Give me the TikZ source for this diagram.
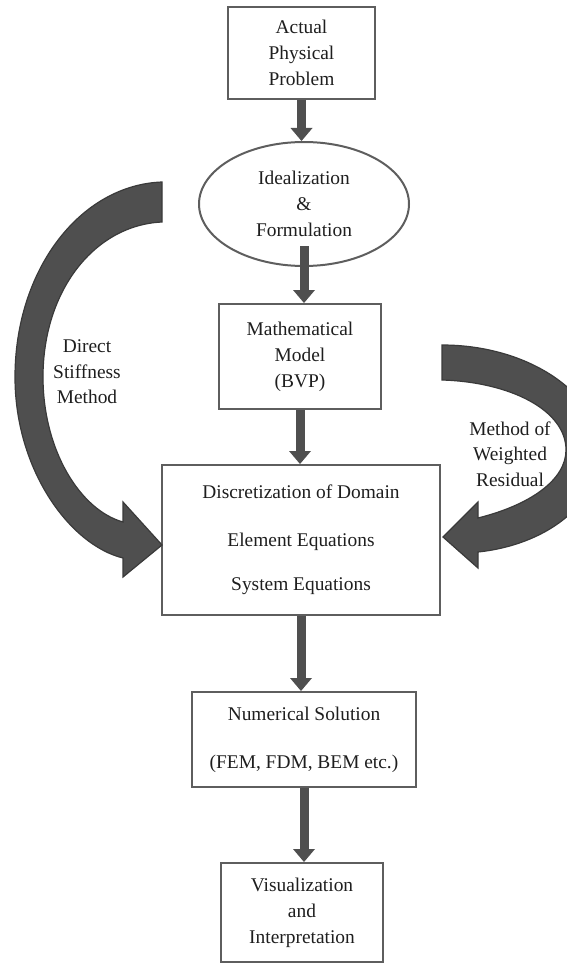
\documentclass[tikz,border=0pt]{standalone}
\usepackage{fontspec}
\setmainfont{Liberation Serif}
\usetikzlibrary{arrows.meta,positioning,shapes.geometric}
\definecolor{boxgray}{HTML}{5E5E5E}
\definecolor{fillgray}{HTML}{4F4F4F}
\definecolor{edgegray}{HTML}{3A3A3A}
\definecolor{inkgray}{HTML}{1E1E1E}
\tikzset{
  stage/.style={draw=boxgray, line width=1pt, align=center, inner sep=0pt, text=inkgray,
    font=\fontsize{9.7}{13}\selectfont},
  flow/.style={draw=fillgray, line width=4.5pt, -{Triangle[length=6.5pt,width=11pt,line width=0pt]}},
  swoop/.style={fill=fillgray, draw=edgegray, line width=0.6pt, line join=miter},
  side/.style={text=inkgray, align=center, font=\fontsize{9.7}{12.7}\selectfont}
}
\begin{document}
\begin{tikzpicture}[x=0.5pt,y=-0.5pt]
	\useasboundingbox (0,0) rectangle (567,963);
	% blocks of the chain
	\node[stage, minimum width=73.5pt, minimum height=46pt] (prob) at (301.5,53) {Actual\\Physical\\Problem};
	\node[stage, ellipse, minimum width=105pt, minimum height=62pt] (ideal) at (304,204) {Idealization\\\&\\Formulation};
	\node[stage, minimum width=81pt, minimum height=52.5pt] (model) at (300,356.5) {Mathematical\\Model\\(BVP)};
	\node[stage, minimum width=139pt, minimum height=75pt] (disc) at (301,540) {Discretization of Domain\\[11pt]Element Equations\\[9pt]System Equations};
	\node[stage, minimum width=112pt, minimum height=47.5pt] (numer) at (304,739.5) {Numerical Solution\\[11pt](FEM, FDM, BEM etc.)};
	\node[stage, minimum width=81pt, minimum height=49.5pt] (visual) at (302,912.5) {Visualization\\and\\Interpretation};
	% straight arrows
	\draw[flow] (prob.south) -- (prob.south |- ideal.north);
	\draw[flow] ([yshift=10.5pt]ideal.south) -- (ideal.south |- model.north);
	\foreach \a/\b in {model/disc, disc/numer, numer/visual}
		\draw[flow] (\a.south) -- (\a.south |- \b.north);
	% curved arrows
	\filldraw[swoop] (162,182) .. controls (80,185) and (15,270) .. (15,377)
		.. controls (15,470) and (70,545) .. (123,558) -- (123,577) -- (162,545) -- (123,502) -- (123,522)
		.. controls (80,510) and (43,450) .. (43,377) .. controls (43,290) and (95,225) .. (162,222) -- cycle;
	\begin{scope}
		\clip (0,0) rectangle (567,963);
		\filldraw[swoop] (442,345) .. controls (530,345) and (600,395) .. (600,450)
			.. controls (600,505) and (545,545) .. (478,552) -- (478,568) -- (443,537) -- (478,502) -- (478,518)
			.. controls (530,505) and (566,480) .. (566,450) .. controls (566,410) and (510,382) .. (442,380) -- cycle;
	\end{scope}
	\node[side] (dsm) at (87,372) {Direct\\Stiffness\\Method};
	\node[side] (mwr) at (510,454) {Method of\\Weighted\\Residual};
\end{tikzpicture}
\end{document}
